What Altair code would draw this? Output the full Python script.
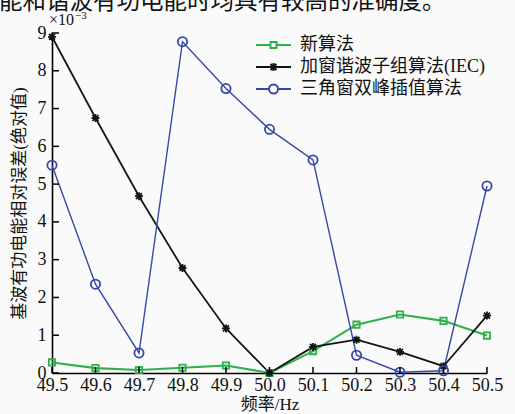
import altair as alt
import pandas as pd

# frequency points (Hz)
freq = [49.5, 49.6, 49.7, 49.8, 49.9, 50.0, 50.1, 50.2, 50.3, 50.4, 50.5]

# relative error of fundamental active energy (absolute value, x10^-3)
new_alg = [0.28, 0.13, 0.08, 0.14, 0.20, 0.0, 0.58, 1.28, 1.55, 1.38, 0.99]
iec_alg = [8.90, 6.75, 4.68, 2.78, 1.18, 0.0, 0.69, 0.88, 0.56, 0.18, 1.52]
tri_alg = [5.50, 2.35, 0.53, 8.77, 7.53, 6.45, 5.64, 0.47, 0.02, 0.06, 4.95]

series = ["新算法", "加窗谐波子组算法(IEC)", "三角窗双峰插值算法"]
colors = ["#2fb04b", "#141414", "#3848a8"]

x_ticks = [49.5, 49.6, 49.7, 49.8, 49.9, 50.0, 50.1, 50.2, 50.3, 50.4, 50.5]
y_ticks = [0, 1, 2, 3, 4, 5, 6, 7, 8, 9]

headline = "能和谐波有功电能时均具有较高的准确度。"

FONT = "Liberation Serif, Noto Sans CJK SC"

rows = []
for name, vals in zip(series, [new_alg, iec_alg, tri_alg]):
    for f, v in zip(freq, vals):
        rows.append({"freq": f, "err": v, "series": name})
df = pd.DataFrame(rows)

W, H = 435, 340

x_scale = alt.Scale(domain=[49.5, 50.5], nice=False, zero=False)
y_scale = alt.Scale(domain=[0, 9], nice=False)
color_scale = alt.Scale(domain=series, range=colors)

asterisk = "M0,-1V1M-1,0H1M-0.75,-0.75L0.75,0.75M-0.75,0.75L0.75,-0.75"
marker_shapes = ["square", asterisk, "circle"]

legend_shapes = [
    "M-1.75,0H-0.3M0.3,0H1.75M-0.3,-0.3H0.3V0.3H-0.3Z",
    "M-1.75,0H1.75M0,-0.4V0.4M-0.4,0H0.4M-0.3,-0.3L0.3,0.3M-0.3,0.3L0.3,-0.3",
    "M-1.75,0H-0.45M0.45,0H1.75M-0.45,0A0.45,0.45,0,1,0,0.45,0A0.45,0.45,0,1,0,-0.45,0",
]

x_axis = alt.Axis(
    values=x_ticks,
    format=".1f",
    title="频率/Hz",
    grid=False,
    ticks=False,
    domainColor="#000000",
    domainWidth=1.6,
    labelFont=FONT,
    labelFontSize=18,
    labelColor="#111111",
    labelPadding=3,
    labelFlush=False,
    labelOverlap=False,
    titleFont=FONT,
    titleFontSize=17,
    titleFontWeight="normal",
    titleColor="#111111",
    titlePadding=2,
)
y_axis = alt.Axis(
    values=y_ticks,
    format="d",
    title="基波有功电能相对误差(绝对值)",
    grid=False,
    ticks=False,
    domainColor="#000000",
    domainWidth=1.6,
    labelFont=FONT,
    labelFontSize=18,
    labelColor="#111111",
    labelPadding=6,
    labelFlush=False,
    labelOverlap=False,
    titleFont=FONT,
    titleFontSize=17,
    titleFontWeight="normal",
    titleColor="#111111",
    titlePadding=9,
)
x_enc = alt.X("freq:Q", scale=x_scale, axis=x_axis)
y_enc = alt.Y("err:Q", scale=y_scale, axis=y_axis)

lines = alt.Chart(df).mark_line().encode(
    x=x_enc,
    y=y_enc,
    color=alt.Color("series:N", scale=color_scale, legend=None),
    strokeWidth=alt.StrokeWidth(
        "series:N",
        scale=alt.Scale(domain=series, range=[2.1, 1.4, 2.1]),
        legend=None,
    ),
    detail="series:N",
)

points = alt.Chart(df).mark_point(filled=False, opacity=1).encode(
    x=x_enc,
    y=y_enc,
    color=alt.Color("series:N", scale=color_scale, legend=None),
    shape=alt.Shape(
        "series:N", scale=alt.Scale(domain=series, range=marker_shapes), legend=None
    ),
    size=alt.Size(
        "series:N", scale=alt.Scale(domain=series, range=[40, 85, 110]), legend=None
    ),
    strokeWidth=alt.StrokeWidth(
        "series:N",
        scale=alt.Scale(domain=series, range=[1.8, 1.8, 1.9]),
        legend=None,
    ),
)

legend_props = dict(
    title=None,
    orient="none",
    legendX=210.5,
    legendY=1,
    padding=0,
    symbolSize=400,
    symbolStrokeWidth=2,
    labelOffset=15.5,
    rowPadding=2,
    labelFont=FONT,
    labelFontSize=18,
    labelColor="#111111",
    labelLimit=300,
)

# legend entries: a short line segment with the series marker on it
legend_layer = (
    alt.Chart(df)
    .transform_filter("false")
    .mark_point(filled=False, opacity=1, strokeWidth=2)
    .encode(
        x=x_enc,
        y=y_enc,
        color=alt.Color(
            "series:N", scale=color_scale, legend=alt.Legend(**legend_props)
        ),
        shape=alt.Shape(
            "series:N",
            scale=alt.Scale(domain=series, range=legend_shapes),
            legend=alt.Legend(**legend_props),
        ),
    )
)

# inward tick marks on both axes
xt = pd.DataFrame({"freq": x_ticks})
yt = pd.DataFrame({"err": y_ticks})
x_tick_marks = alt.Chart(xt).mark_rule(color="#000000", strokeWidth=1.5).encode(
    x=x_enc, y=alt.value(H), y2=alt.value(H - 6)
)
y_tick_marks = alt.Chart(yt).mark_rule(color="#000000", strokeWidth=1.5).encode(
    y=y_enc, x=alt.value(0), x2=alt.value(7)
)

# axis multiplier and clipped line of body text above the figure
mult = alt.Chart(pd.DataFrame({"t": ["×10"]})).mark_text(
    font=FONT, fontSize=16, align="left", baseline="alphabetic", color="#111111"
).encode(text="t:N", x=alt.value(-3), y=alt.value(-8))
mult_exp = alt.Chart(pd.DataFrame({"t": ["−3"]})).mark_text(
    font=FONT, fontSize=11, align="left", baseline="alphabetic", color="#111111"
).encode(text="t:N", x=alt.value(23), y=alt.value(-14))
head = alt.Chart(pd.DataFrame({"t": [headline]})).mark_text(
    font="Noto Sans CJK SC", fontSize=23.5, align="left", baseline="alphabetic",
    color="#111111",
).encode(text="t:N", x=alt.value(-53), y=alt.value(-24))

chart = (
    alt.layer(
        lines, points, legend_layer, x_tick_marks, y_tick_marks, mult, mult_exp, head
    )
    .resolve_scale(
        color="independent",
        shape="independent",
        size="independent",
        strokeWidth="independent",
    )
    .properties(
        width=W,
        height=H,
        autosize=alt.AutoSizeParams(type="none"),
        padding={"left": 52, "top": 33, "right": 28, "bottom": 41},
        background="#fafafa",
    )
    .configure_view(stroke=None)
)

chart.save("out.html", embed_options={"renderer": "svg", "actions": False})
